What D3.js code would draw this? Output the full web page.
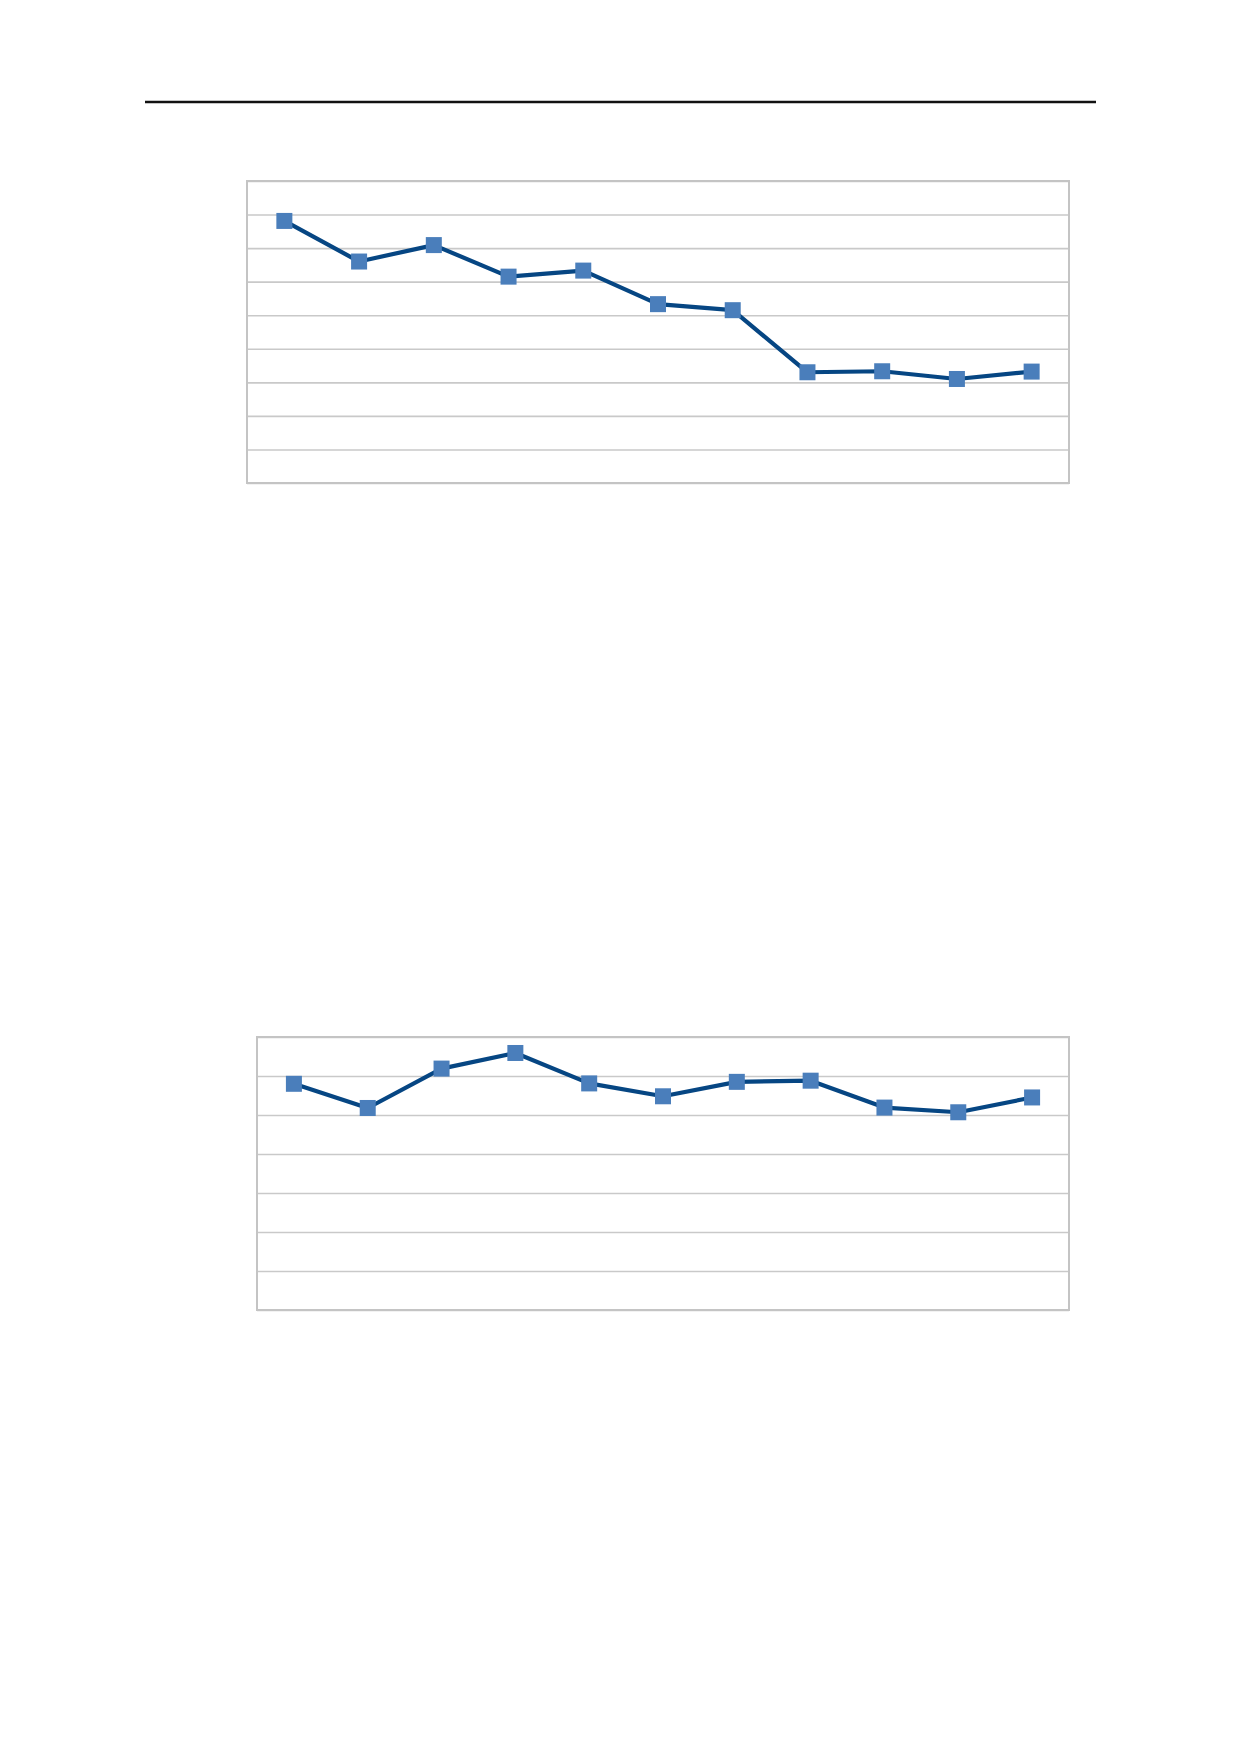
<!DOCTYPE html>
<html>
<head>
<meta charset="utf-8">
<script src="https://cdn.jsdelivr.net/npm/d3@7"></script>
<style>
  html, body { margin: 0; padding: 0; background: #fff; }
  svg { display: block; }
</style>
</head>
<body>
<svg id="page" width="1240" height="1754"></svg>
<script>
// Data (no axis labels are shown in the picture)
const categories = ["1", "2", "3", "4", "5", "6", "7", "8", "9", "10", "11"];
const series1 = [78.1, 66.0, 70.9, 61.5, 63.3, 53.3, 51.5, 33.0, 33.3, 31.0, 33.2];
const series2 = [58.0, 51.8, 61.9, 65.9, 58.1, 54.8, 58.5, 58.8, 51.9, 50.7, 54.5];
const yTicks1 = [0, 10, 20, 30, 40, 50, 60, 70, 80, 90];
const yTicks2 = [0, 10, 20, 30, 40, 50, 60, 70];

const svg = d3.select("#page");

// header rule
svg.append("line")
  .attr("x1", 145).attr("x2", 1096)
  .attr("y1", 102).attr("y2", 102)
  .attr("stroke", "#111").attr("stroke-width", 2.5);

function drawChart(box, values, ticks) {
  const g = svg.append("g");
  const x = d3.scaleBand().domain(categories).range([box.x0, box.x1]).padding(0);
  const y = d3.scaleLinear().domain([ticks[0], ticks[ticks.length - 1]]).range([box.y1, box.y0]);

  // gridlines
  const grid = g.append("g")
    .attr("transform", `translate(${box.x0},0)`)
    .call(d3.axisLeft(y).tickValues(ticks).tickSize(-(box.x1 - box.x0)).tickFormat(""));
  grid.select(".domain").remove();
  grid.selectAll(".tick line").attr("stroke", "#c9c9c9").attr("stroke-width", 1.6);

  // frame
  g.append("rect")
    .attr("x", box.x0).attr("y", box.y0)
    .attr("width", box.x1 - box.x0).attr("height", box.y1 - box.y0)
    .attr("fill", "none").attr("stroke", "#c4c4c4").attr("stroke-width", 2);

  const cx = d => x(d) + x.bandwidth() / 2;
  const pts = categories.map((c, i) => [cx(c), y(values[i])]);

  g.append("path")
    .attr("d", d3.line()(pts))
    .attr("fill", "none").attr("stroke", "#064683")
    .attr("stroke-width", 4.2).attr("stroke-linejoin", "round");

  const s = 16;
  g.selectAll("rect.m").data(pts).enter().append("rect")
    .attr("class", "m")
    .attr("x", d => d[0] - s / 2).attr("y", d => d[1] - s / 2)
    .attr("width", s).attr("height", s)
    .attr("fill", "#4a7ebb");
}

drawChart({x0: 247, x1: 1069, y0: 181, y1: 483}, series1, yTicks1);
drawChart({x0: 257, x1: 1069, y0: 1037, y1: 1310}, series2, yTicks2);
</script>
</body>
</html>
